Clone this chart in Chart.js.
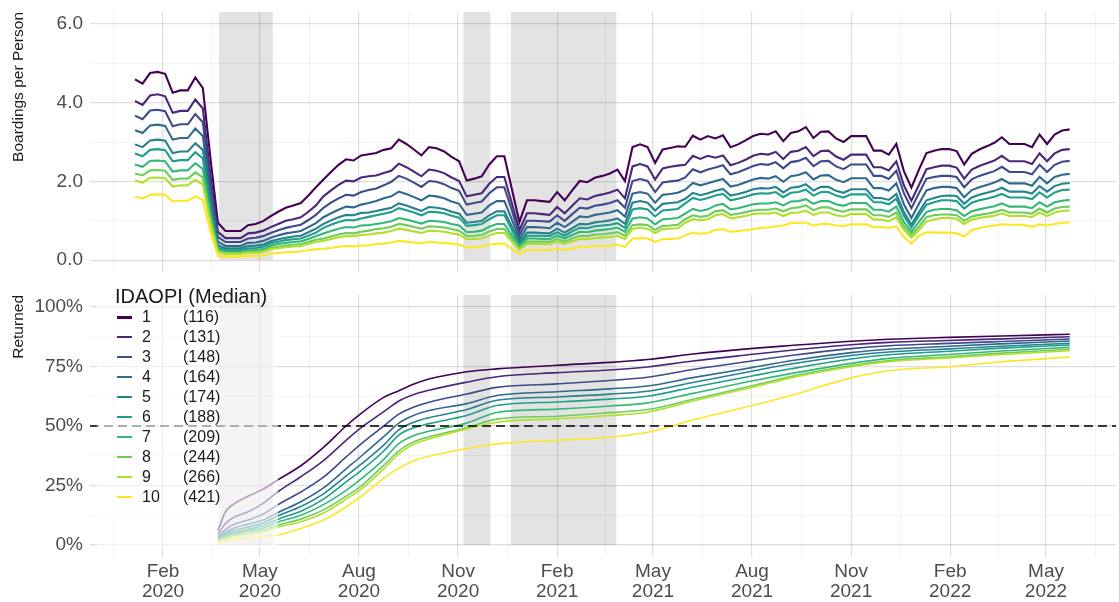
<!DOCTYPE html>
<html>
<head>
<meta charset="utf-8">
<title>Boardings per Person and Returned by IDAOPI</title>
<script src="https://cdn.jsdelivr.net/npm/chart.js"></script>
<style>
  body { margin: 0; background: #fff; }
  #page { position: relative; width: 1119px; height: 602px; overflow: hidden; font-family: "Liberation Sans", Arial, sans-serif; }
  #boardChart { position: absolute; left: 0; top: 0; }
  #returnChart { position: absolute; left: 0; top: 280px; }
  #legend { position: absolute; left: 97px; top: 281px; width: 181px; height: 267px; background: rgba(255,255,255,0.6); color: #1a1a1a; }
  #legend .title { position: absolute; left: 18px; top: 5px; font-size: 20px; line-height: 20px; white-space: nowrap; }
  #legend .row { position: absolute; left: 0; width: 181px; height: 20px; line-height: 20px; font-size: 16px; }
  #legend .key { position: absolute; left: 20px; top: 9px; width: 15px; height: 2.5px; }
  #legend .num { position: absolute; left: 45px; }
  #legend .med { position: absolute; left: 86px; }
</style>
</head>
<body>
<div id="page">
  <canvas id="boardChart" width="1119" height="280"></canvas>
  <canvas id="returnChart" width="1119" height="322"></canvas>
  <div id="legend"><div class="title">IDAOPI (Median)</div></div>
</div>

<script>
// ---------------- data ----------------
// boardings per person, weekly from the first week below
const boardFirstWeek = '2020-01-06';

const b1 = [4.59,4.48,4.75,4.78,4.73,4.25,4.31,4.31,4.64,4.37,
  2.60,0.95,0.74,0.74,0.74,0.89,0.92,0.99,1.12,1.23,
  1.33,1.39,1.45,1.64,1.85,2.05,2.24,2.42,2.56,2.53,
  2.66,2.69,2.72,2.80,2.84,3.06,2.95,2.81,2.66,2.87,
  2.84,2.76,2.62,2.51,2.02,2.07,2.13,2.43,2.64,2.64,
  1.80,0.97,1.52,1.52,1.50,1.48,1.73,1.52,1.77,2.01,
  1.98,2.09,2.14,2.20,2.30,2.01,2.87,2.94,2.87,2.47,
  2.81,2.85,2.89,2.88,3.16,3.06,3.15,3.09,3.17,2.87,
  2.94,3.04,3.15,3.21,3.19,3.27,3.02,3.23,3.27,3.38,
  3.10,3.26,3.27,3.09,3.00,3.15,3.15,3.15,2.78,2.78,
  2.68,2.95,2.26,1.84,2.30,2.72,2.78,2.82,2.82,2.77,
  2.43,2.70,2.81,2.89,2.98,3.12,2.95,2.95,2.95,2.87,
  3.19,2.95,3.19,3.29,3.32];
const b2 = [4.04,3.94,4.18,4.21,4.16,3.74,3.79,3.79,4.08,3.85,
  2.18,0.72,0.56,0.56,0.56,0.68,0.70,0.75,0.84,0.92,
  1.00,1.04,1.09,1.23,1.39,1.62,1.77,1.91,2.02,2.00,
  2.10,2.13,2.15,2.21,2.27,2.45,2.36,2.25,2.13,2.30,
  2.27,2.21,2.10,2.01,1.62,1.66,1.70,1.94,2.11,2.11,
  1.44,0.76,1.19,1.19,1.17,1.15,1.35,1.19,1.38,1.57,
  1.54,1.63,1.67,1.72,1.79,1.57,2.38,2.44,2.38,2.05,
  2.33,2.37,2.40,2.42,2.65,2.57,2.65,2.60,2.66,2.41,
  2.47,2.55,2.65,2.70,2.68,2.75,2.57,2.75,2.78,2.87,
  2.64,2.77,2.78,2.63,2.55,2.68,2.68,2.68,2.36,2.36,
  2.28,2.51,1.90,1.51,1.91,2.31,2.36,2.40,2.40,2.35,
  2.07,2.30,2.39,2.46,2.53,2.65,2.51,2.51,2.51,2.44,
  2.71,2.51,2.71,2.80,2.82];
const b3 = [3.67,3.58,3.80,3.82,3.78,3.40,3.45,3.45,3.71,3.50,
  1.92,0.59,0.46,0.46,0.46,0.55,0.57,0.61,0.69,0.76,
  0.82,0.86,0.90,1.02,1.15,1.33,1.46,1.57,1.66,1.64,
  1.73,1.78,1.82,1.90,1.99,2.14,2.07,1.97,1.86,2.01,
  1.99,1.93,1.83,1.76,1.41,1.45,1.49,1.70,1.85,1.85,
  1.26,0.64,1.00,1.00,0.99,0.98,1.14,1.00,1.17,1.33,
  1.31,1.38,1.41,1.45,1.52,1.33,2.01,2.06,2.01,1.73,
  1.97,2.00,2.02,2.10,2.31,2.23,2.30,2.35,2.41,2.18,
  2.23,2.31,2.39,2.44,2.42,2.49,2.33,2.49,2.52,2.60,
  2.39,2.51,2.52,2.38,2.31,2.43,2.43,2.43,2.14,2.14,
  2.06,2.27,1.70,1.32,1.70,2.07,2.11,2.14,2.14,2.11,
  1.85,2.05,2.14,2.20,2.26,2.37,2.24,2.24,2.24,2.18,
  2.42,2.24,2.42,2.50,2.52];
const b4 = [3.30,3.23,3.42,3.44,3.41,3.06,3.10,3.10,3.34,3.15,
  1.66,0.47,0.36,0.36,0.36,0.44,0.45,0.49,0.57,0.63,
  0.68,0.71,0.74,0.84,0.94,1.09,1.19,1.28,1.36,1.34,
  1.41,1.45,1.50,1.57,1.62,1.74,1.68,1.60,1.52,1.64,
  1.62,1.57,1.49,1.43,1.15,1.18,1.21,1.39,1.50,1.50,
  1.03,0.53,0.84,0.84,0.83,0.81,0.95,0.84,0.97,1.11,
  1.09,1.15,1.18,1.21,1.27,1.11,1.69,1.73,1.69,1.46,
  1.66,1.68,1.71,1.79,1.96,1.90,1.95,2.01,2.06,1.87,
  1.91,1.98,2.05,2.09,2.07,2.13,1.99,2.13,2.16,2.23,
  2.05,2.15,2.16,2.04,1.98,2.08,2.08,2.08,1.83,1.83,
  1.77,1.95,1.42,1.07,1.43,1.77,1.83,1.86,1.86,1.83,
  1.60,1.78,1.85,1.91,1.97,2.06,1.95,1.95,1.95,1.89,
  2.11,1.95,2.11,2.17,2.19];
const b5 = [2.94,2.87,3.04,3.06,3.03,2.72,2.76,2.76,2.97,2.80,
  1.46,0.38,0.30,0.30,0.30,0.36,0.37,0.40,0.48,0.53,
  0.57,0.60,0.62,0.71,0.80,0.92,1.01,1.09,1.15,1.14,
  1.20,1.21,1.25,1.29,1.33,1.44,1.39,1.32,1.25,1.35,
  1.33,1.30,1.23,1.18,0.95,0.97,1.00,1.14,1.24,1.24,
  0.85,0.45,0.70,0.70,0.69,0.68,0.80,0.70,0.81,0.92,
  0.91,0.96,0.98,1.01,1.06,0.92,1.46,1.50,1.46,1.26,
  1.43,1.45,1.47,1.56,1.71,1.65,1.70,1.76,1.81,1.64,
  1.68,1.73,1.80,1.83,1.82,1.86,1.72,1.84,1.86,1.93,
  1.77,1.86,1.86,1.76,1.71,1.80,1.80,1.80,1.58,1.58,
  1.53,1.68,1.22,0.90,1.22,1.52,1.58,1.63,1.64,1.63,
  1.43,1.59,1.66,1.71,1.76,1.84,1.74,1.74,1.74,1.69,
  1.88,1.74,1.88,1.94,1.96];
const b6 = [2.71,2.64,2.80,2.82,2.79,2.51,2.54,2.54,2.74,2.58,
  1.30,0.32,0.25,0.25,0.25,0.30,0.31,0.34,0.43,0.47,
  0.51,0.53,0.55,0.62,0.70,0.82,0.90,0.97,1.02,1.01,
  1.06,1.10,1.14,1.18,1.22,1.32,1.27,1.21,1.14,1.23,
  1.22,1.19,1.13,1.08,0.87,0.89,0.92,1.04,1.14,1.14,
  0.77,0.40,0.62,0.62,0.62,0.61,0.71,0.62,0.73,0.82,
  0.81,0.86,0.88,0.90,0.94,0.82,1.29,1.32,1.29,1.11,
  1.26,1.28,1.30,1.44,1.58,1.53,1.58,1.64,1.68,1.52,
  1.56,1.61,1.67,1.70,1.69,1.73,1.60,1.71,1.73,1.79,
  1.64,1.73,1.73,1.64,1.59,1.67,1.67,1.67,1.47,1.47,
  1.42,1.56,1.13,0.83,1.13,1.41,1.47,1.52,1.52,1.50,
  1.31,1.46,1.52,1.56,1.61,1.68,1.59,1.59,1.59,1.55,
  1.72,1.59,1.72,1.78,1.79];
const b7 = [2.43,2.37,2.52,2.53,2.51,2.25,2.28,2.28,2.46,2.32,
  1.14,0.27,0.21,0.21,0.21,0.25,0.26,0.28,0.37,0.41,
  0.44,0.46,0.48,0.54,0.61,0.68,0.74,0.80,0.84,0.83,
  0.88,0.89,0.92,0.95,0.99,1.07,1.03,0.98,0.93,1.00,
  0.99,0.97,0.92,0.88,0.71,0.72,0.75,0.85,0.92,0.92,
  0.63,0.35,0.55,0.55,0.54,0.53,0.62,0.55,0.64,0.72,
  0.71,0.75,0.77,0.79,0.83,0.72,1.06,1.09,1.06,0.91,
  1.04,1.05,1.07,1.18,1.30,1.25,1.29,1.39,1.43,1.29,
  1.32,1.37,1.42,1.44,1.44,1.47,1.39,1.49,1.50,1.55,
  1.43,1.50,1.50,1.42,1.38,1.45,1.45,1.45,1.28,1.28,
  1.23,1.36,0.97,0.72,0.97,1.22,1.28,1.30,1.30,1.27,
  1.12,1.24,1.29,1.33,1.37,1.44,1.36,1.36,1.36,1.32,
  1.47,1.36,1.47,1.51,1.53];
const b8 = [2.20,2.15,2.28,2.29,2.27,2.04,2.07,2.07,2.23,2.10,
  1.04,0.23,0.18,0.18,0.18,0.21,0.22,0.24,0.31,0.34,
  0.37,0.39,0.41,0.46,0.52,0.55,0.60,0.65,0.69,0.68,
  0.72,0.75,0.79,0.81,0.85,0.92,0.89,0.84,0.80,0.86,
  0.85,0.83,0.79,0.75,0.61,0.62,0.64,0.73,0.79,0.79,
  0.54,0.30,0.47,0.47,0.47,0.46,0.54,0.47,0.55,0.62,
  0.61,0.65,0.66,0.68,0.71,0.62,0.89,0.91,0.89,0.77,
  0.87,0.88,0.90,1.04,1.14,1.10,1.13,1.24,1.27,1.15,
  1.18,1.22,1.26,1.28,1.28,1.31,1.24,1.32,1.34,1.39,
  1.27,1.34,1.34,1.27,1.23,1.29,1.29,1.29,1.14,1.14,
  1.10,1.21,0.86,0.64,0.85,1.09,1.14,1.16,1.16,1.14,
  1.00,1.11,1.15,1.18,1.22,1.28,1.21,1.21,1.21,1.18,
  1.31,1.21,1.31,1.35,1.36];
const b9 = [2.02,1.97,2.09,2.10,2.08,1.87,1.90,1.90,2.04,1.92,
  0.94,0.20,0.16,0.16,0.16,0.19,0.19,0.21,0.28,0.31,
  0.33,0.35,0.36,0.41,0.46,0.49,0.54,0.58,0.61,0.61,
  0.64,0.65,0.68,0.70,0.74,0.80,0.77,0.73,0.69,0.75,
  0.74,0.72,0.68,0.65,0.53,0.54,0.55,0.63,0.69,0.69,
  0.47,0.26,0.41,0.41,0.41,0.40,0.47,0.41,0.48,0.54,
  0.53,0.56,0.58,0.59,0.62,0.54,0.80,0.82,0.80,0.69,
  0.79,0.80,0.81,0.95,1.04,1.01,1.04,1.14,1.17,1.06,
  1.09,1.12,1.17,1.19,1.18,1.21,1.12,1.20,1.21,1.25,
  1.15,1.21,1.21,1.14,1.11,1.17,1.17,1.17,1.03,1.03,
  0.99,1.09,0.77,0.57,0.76,0.98,1.03,1.07,1.07,1.05,
  0.92,1.03,1.07,1.10,1.13,1.19,1.12,1.12,1.12,1.09,
  1.21,1.12,1.21,1.25,1.26];
const b10 = [1.61,1.57,1.66,1.67,1.66,1.49,1.51,1.51,1.62,1.53,
  0.73,0.11,0.09,0.09,0.09,0.11,0.11,0.12,0.17,0.18,
  0.20,0.21,0.22,0.25,0.28,0.29,0.31,0.34,0.36,0.35,
  0.37,0.38,0.41,0.42,0.45,0.49,0.47,0.45,0.43,0.46,
  0.45,0.44,0.42,0.40,0.32,0.33,0.34,0.39,0.42,0.42,
  0.29,0.16,0.26,0.26,0.26,0.25,0.29,0.26,0.30,0.34,
  0.34,0.36,0.36,0.37,0.39,0.34,0.55,0.56,0.55,0.47,
  0.53,0.54,0.55,0.63,0.70,0.67,0.69,0.77,0.79,0.72,
  0.74,0.76,0.79,0.82,0.83,0.86,0.88,0.94,0.95,0.95,
  0.88,0.92,0.92,0.88,0.86,0.91,0.91,0.91,0.84,0.84,
  0.82,0.86,0.59,0.42,0.62,0.71,0.70,0.70,0.70,0.68,
  0.60,0.76,0.82,0.85,0.88,0.91,0.90,0.90,0.89,0.85,
  0.91,0.88,0.92,0.95,0.96];

// share of riders returned (%), cumulative
const returnDates = ['2020-03-23','2020-03-30','2020-04-06','2020-04-20','2020-05-04','2020-05-18',
  '2020-06-08','2020-06-29','2020-07-20','2020-08-03','2020-08-24','2020-09-07','2020-09-21',
  '2020-10-05','2020-11-09','2020-12-07','2021-02-01','2021-03-22','2021-04-26','2021-06-07',
  '2021-08-02','2021-09-06','2021-11-01','2021-12-06','2022-01-31','2022-03-21','2022-05-23'];
const r1 = [6,14,17,20.5,23.5,27.5,33.3,41,50,55.3,62,64.8,67.6,69.7,72.8,74,75.5,76.7,77.9,80.2,82.6,83.8,85.6,86.4,87.2,87.8,88.5];
const r2 = [4.5,9,11.5,14,17.5,22.5,28.7,35.5,44,49.3,56,60.5,63.2,65,68.4,70.7,72.4,73.5,74.8,77.3,80.1,81.8,84.1,85.1,85.9,86.6,87.5];
const r3 = [3.5,6.5,8.5,10.5,13,17,22.3,28.5,37,42.5,50,55,58,60,63.4,66.2,67.7,69.1,70.5,73.7,77.4,79.6,82.5,83.7,84.7,85.5,86.5];
const r4 = [3,5.3,7,8.8,10.5,13.7,18.2,24,32,37.3,45.5,51.2,54.5,56.5,59.4,62.8,64.4,65.6,66.8,70.3,74.6,77.4,80.8,82.2,83.5,84.5,85.7];
const r5 = [2.6,4.6,6,7.6,9.3,12.3,16.2,21.5,29,34,42,48.4,51.6,53.5,56.9,60.8,62.2,63.4,64.6,68.3,73.1,76,79.6,81.1,82.4,83.5,84.7];
const r6 = [2.3,4,5.2,6.6,8.2,10.9,14.2,19.3,26.5,31.3,39.5,46.2,49.3,51,54.4,58.6,60.1,61.3,62.5,66.3,71.1,74,78.1,79.9,81.4,82.7,84];
const r7 = [2,3.5,4.6,5.9,7.2,9.7,12.5,17,23,27.8,36,42.6,46,47.8,51.2,55.7,57.1,58.4,59.7,63.7,69,72,76.3,78.4,80,81.5,83];
const r8 = [1.7,3,4,5.1,6.3,8.4,10.9,14.8,20.5,24.8,33.5,39.6,43.4,45.4,49.3,52.9,54.1,55.6,56.9,61.2,67,70.8,75.4,77.5,79.1,80.6,82.2];
const r9 = [1.5,2.7,3.6,4.6,5.7,7.6,9.8,13.5,19.3,23.5,32,38.3,42.3,44.5,48.8,51.6,53,54.4,55.8,60.5,66.3,70.2,74.9,77,78.6,80,81.6];
const r10 = [1,1.8,2.3,3,3.6,4.2,7,10.5,16,20.5,28,32.3,35.4,37.3,40.5,42.5,44,45.3,47.4,52.5,58.7,62.8,70.2,73.2,74.9,77,78.9];
const refLevel = 50;

const deciles = ['1','2','3','4','5','6','7','8','9','10'];
const medians = ['(116)','(131)','(148)','(164)','(174)','(188)','(209)','(244)','(266)','(421)'];
const colors = ['#440154','#482878','#3e4a89','#31688e','#26828e','#1f9e89','#35b779','#6dcd59','#b4de2c','#fde725'];

// shaded periods
const shadeFrom = ['2020-03-24','2020-11-06','2020-12-20'];
const shadeTo   = ['2020-05-13','2020-12-01','2021-03-28'];

// axis ticks
const majorDates = ['2020-02-01','2020-05-01','2020-08-01','2020-11-01','2021-02-01',
  '2021-05-01','2021-08-01','2021-11-01','2022-02-01','2022-05-01'];
const majorLabels = [['Feb','2020'],['May','2020'],['Aug','2020'],['Nov','2020'],['Feb','2021'],
  ['May','2021'],['Aug','2021'],['Nov','2021'],['Feb','2022'],['May','2022']];
const boardTicks = [0, 2, 4, 6];
const boardTickLabels = ['0.0', '2.0', '4.0', '6.0'];
const returnTicks = [0, 25, 50, 75, 100];
const returnTickLabels = ['0%', '25%', '50%', '75%', '100%'];

// ---------------- helpers ----------------
const FONT = '"Liberation Sans", Arial, sans-serif';
Chart.defaults.font.family = FONT;

const day = s => Date.parse(s + 'T00:00:00Z') / 864e5;
const xMin = day('2019-11-25') + 0.2;
const xMax = day('2022-07-05');
const majorX = majorDates.map(day);
const edges = [day('2019-11-01'), ...majorX, day('2022-08-01')];
const minorX = edges.slice(1).map((v, i) => (v + edges[i]) / 2).filter(v => v > xMin && v < xMax);
const xTicks = [...majorX, ...minorX].sort((a, b) => a - b);
const weekX = b1.map((_, k) => day(boardFirstWeek) + 7 * k);
const returnX = returnDates.map(day);

function grid(isMajor) {
  return {
    drawTicks: false,
    color: c => isMajor(c.tick.value) ? 'rgba(0,0,0,0.13)' : 'rgba(0,0,0,0.07)',
    lineWidth: c => isMajor(c.tick.value) ? 1.2 : 0.7
  };
}

function xAxis(showLabels) {
  return {
    type: 'linear', min: xMin, max: xMax,
    afterBuildTicks: s => { s.ticks = xTicks.map(v => ({ value: v })); },
    afterFit: s => { s.height = showLabels ? 45 : 8; s.paddingLeft = 0; s.paddingRight = 0; },
    ticks: {
      display: showLabels, autoSkip: false, maxRotation: 0, minRotation: 0, padding: 5,
      color: '#4d4d4d', font: { size: 19, lineHeight: 1.05 },
      callback: v => { const i = majorX.indexOf(v); return i >= 0 ? majorLabels[i] : ''; }
    },
    grid: grid(v => majorX.includes(v)),
    border: { display: false }
  };
}

function yAxis(min, max, majors, minors, labels, title) {
  const all = [...majors, ...minors].sort((a, b) => a - b);
  return {
    min: min, max: max,
    afterBuildTicks: s => { s.ticks = all.map(v => ({ value: v })); },
    afterFit: s => { s.width = 90; s.paddingTop = 0; s.paddingBottom = 0; },
    ticks: {
      padding: 7, color: '#4d4d4d', font: { size: 19 },
      callback: v => { const i = majors.indexOf(v); return i >= 0 ? labels[i] : ''; }
    },
    title: {
      display: true, text: title, align: 'end', color: '#1a1a1a',
      font: { size: 15.5 }, padding: { top: 9, bottom: 0 }
    },
    grid: grid(v => majors.includes(v)),
    border: { display: false }
  };
}

const shadePlugin = {
  id: 'shade',
  beforeDraw(chart) {
    const { ctx, chartArea, scales: { x, y } } = chart;
    const y0 = y.getPixelForValue(0);
    ctx.save();
    ctx.fillStyle = '#e3e3e3';
    shadeFrom.forEach((d, i) => {
      const a = x.getPixelForValue(day(d));
      const b = x.getPixelForValue(day(shadeTo[i]));
      ctx.fillRect(a, chartArea.top, b - a, y0 - chartArea.top);
    });
    ctx.restore();
  }
};

const commonOpts = {
  responsive: false,
  animation: false,
  plugins: { legend: { display: false }, tooltip: { enabled: false } },
  elements: { point: { radius: 0 } }
};

// ---------------- top: boardings per person ----------------
const boardSeries = [b1, b2, b3, b4, b5, b6, b7, b8, b9, b10];
new Chart(document.getElementById('boardChart'), {
  type: 'line',
  data: {
    datasets: boardSeries.map((vals, i) => ({
      label: deciles[i],
      data: vals.map((v, k) => ({ x: weekX[k], y: v })),
      borderColor: colors[i], borderWidth: 2.1, tension: 0, order: 10 - i
    }))
  },
  options: {
    ...commonOpts,
    layout: { padding: { top: 12, right: 3, left: 0, bottom: 0 } },
    scales: {
      x: xAxis(false),
      y: yAxis(-0.3, 6.3, boardTicks, [1, 3, 5], boardTickLabels, 'Boardings per Person')
    }
  },
  plugins: [shadePlugin]
});

// ---------------- bottom: returned ----------------
const returnSeries = [r1, r2, r3, r4, r5, r6, r7, r8, r9, r10];
const returnSets = returnSeries.map((vals, i) => ({
  label: deciles[i],
  data: vals.map((v, k) => ({ x: returnX[k], y: v })),
  borderColor: colors[i], borderWidth: 1.6, cubicInterpolationMode: 'monotone', order: 10 - i
}));
returnSets.push({
  label: 'ref',
  data: [{ x: xMin, y: refLevel }, { x: xMax, y: refLevel }],
  borderColor: '#000', borderWidth: 1.4, borderDash: [9, 5], order: 0
});

new Chart(document.getElementById('returnChart'), {
  type: 'line',
  data: { datasets: returnSets },
  options: {
    ...commonOpts,
    layout: { padding: { top: 15, right: 3, left: 0, bottom: 0 } },
    scales: {
      x: xAxis(true),
      y: yAxis(-5, 105, returnTicks, [12.5, 37.5, 62.5, 87.5], returnTickLabels, 'Returned')
    }
  },
  plugins: [shadePlugin]
});

// ---------------- legend inside the lower panel ----------------
const legend = document.getElementById('legend');
deciles.forEach((d, i) => {
  const row = document.createElement('div');
  row.className = 'row';
  row.style.top = (26 + i * 19.95) + 'px';
  row.innerHTML = '<span class="key" style="background:' + colors[i] + '"></span>' +
    '<span class="num">' + d + '</span><span class="med">' + medians[i] + '</span>';
  legend.appendChild(row);
});
</script>
</body>
</html>
